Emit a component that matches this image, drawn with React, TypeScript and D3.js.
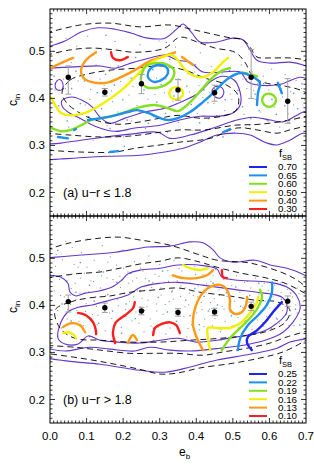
import { useEffect, useRef } from 'react';
import * as d3 from 'd3';

// Colours
const PURPLE = "#6435cc";
const LEVEL_COLORS = ["#2323ee", "#1e90f0", "#84e01e", "#f2f000", "#ff9a14", "#ff1e1e"];
const FONT = "'Liberation Sans', Arial, Helvetica, sans-serif";

// Legend levels
const FSB_A = ["0.70", "0.65", "0.60", "0.50", "0.40", "0.30"];
const FSB_B = ["0.25", "0.22", "0.19", "0.16", "0.13", "0.10"];

// Binned means with error bars
const EB_BINS = [0.05, 0.15, 0.25, 0.35, 0.45, 0.55, 0.65];
const A_MEAN = [0.445, 0.413, 0.431, 0.418, 0.412, 0.445, 0.394];
const A_LO = [0.409, 0.405, 0.410, 0.396, 0.394, 0.400, 0.347];
const A_HI = [0.469, 0.421, 0.451, 0.440, 0.428, 0.504, 0.442];
const B_MEAN = [0.408, 0.395, 0.388, 0.385, 0.386, 0.398, 0.409];
const B_LO = [0.386, 0.385, 0.380, 0.377, 0.378, 0.389, 0.398];
const B_HI = [0.422, 0.405, 0.396, 0.393, 0.394, 0.407, 0.420];

// Panel (a) number-density contours (solid purple, open ones run off the frame)
const A_PURPLE = [
  [[-0.01,0.509],[0.041,0.522],[0.085,0.541],[0.131,0.550],[0.178,0.547],[0.221,0.539],[0.268,0.528],[0.314,0.528],[0.350,0.550],[0.364,0.558],[0.388,0.539],[0.410,0.520],[0.457,0.520],[0.500,0.528],[0.528,0.524],[0.547,0.503],[0.566,0.481],[0.602,0.475],[0.656,0.477],[0.692,0.471],[0.71,0.464]],
  [[0.71,0.322],[0.692,0.326],[0.656,0.311],[0.621,0.301],[0.593,0.305],[0.547,0.322],[0.511,0.326],[0.457,0.322],[0.410,0.307],[0.364,0.294],[0.314,0.286],[0.246,0.279],[0.164,0.277],[0.104,0.275],[0.027,0.271],[-0.01,0.269]],
  [[-0.01,0.464],[0.068,0.467],[0.139,0.469],[0.178,0.464],[0.221,0.475],[0.273,0.486],[0.314,0.492],[0.350,0.481],[0.383,0.477],[0.418,0.456],[0.473,0.456],[0.520,0.456],[0.541,0.435],[0.574,0.428],[0.629,0.430],[0.684,0.445],[0.71,0.439]],
  [[0.71,0.375],[0.692,0.371],[0.637,0.350],[0.602,0.354],[0.555,0.360],[0.511,0.354],[0.446,0.337],[0.383,0.322],[0.328,0.315],[0.295,0.328],[0.219,0.324],[0.150,0.318],[0.085,0.311],[0.030,0.305],[-0.01,0.303]],
];
const A_PURPLE_LOOPS = [
  [[0.033,0.396],[0.060,0.403],[0.088,0.396],[0.115,0.382],[0.137,0.360],[0.164,0.347],[0.205,0.358],[0.260,0.371],[0.314,0.379],[0.369,0.396],[0.410,0.413],[0.438,0.435],[0.470,0.447],[0.503,0.439],[0.520,0.413],[0.520,0.386],[0.500,0.369],[0.459,0.362],[0.410,0.362],[0.355,0.354],[0.301,0.343],[0.232,0.337],[0.178,0.330],[0.123,0.341],[0.082,0.358],[0.049,0.371],[0.033,0.384]],
  [[0.014,0.428],[0.019,0.437],[0.027,0.440],[0.035,0.432],[0.034,0.420],[0.025,0.417],[0.017,0.420]],
  [[0.443,0.413],[0.448,0.423],[0.459,0.426],[0.472,0.421],[0.475,0.410],[0.466,0.401],[0.452,0.403]],
];
// Panel (a) dashed contours
const A_DASHED = [
  [[-0.01,0.539],[0.082,0.556],[0.164,0.560],[0.246,0.552],[0.328,0.556],[0.397,0.545],[0.484,0.530],[0.528,0.524],[0.547,0.509],[0.566,0.488],[0.602,0.486],[0.656,0.486],[0.71,0.481]],
  [[0.71,0.343],[0.656,0.333],[0.621,0.326],[0.566,0.333],[0.511,0.337],[0.438,0.315],[0.355,0.307],[0.301,0.301],[0.232,0.294],[0.178,0.286],[0.082,0.286],[-0.01,0.290]],
  [[-0.01,0.492],[0.055,0.503],[0.112,0.507],[0.178,0.503],[0.232,0.498],[0.314,0.507],[0.355,0.530],[0.402,0.520],[0.451,0.507],[0.506,0.498],[0.533,0.477],[0.552,0.449],[0.580,0.435],[0.643,0.426],[0.684,0.418],[0.71,0.407]],
  [[0.71,0.364],[0.656,0.354],[0.574,0.345],[0.506,0.343],[0.424,0.333],[0.355,0.333],[0.301,0.328],[0.219,0.320],[0.137,0.318],[0.055,0.322],[-0.01,0.326]],
];
const A_DASHED_LOOPS = [
  [[0.033,0.413],[0.055,0.439],[0.104,0.452],[0.164,0.460],[0.232,0.464],[0.301,0.469],[0.369,0.460],[0.424,0.443],[0.479,0.430],[0.514,0.407],[0.509,0.375],[0.470,0.362],[0.410,0.358],[0.350,0.364],[0.301,0.358],[0.246,0.350],[0.186,0.345],[0.123,0.354],[0.077,0.371],[0.044,0.392]],
];
// Panel (a) f_SB contours: [level index, points]
const A_LEVELS: [number, number[][]][] = [
  [4, [[-0.01,0.460],[0.030,0.475],[0.063,0.486]]],
  [4, [[0.126,0.498],[0.098,0.481],[0.085,0.460],[0.090,0.445],[0.112,0.435],[0.153,0.433],[0.194,0.445],[0.232,0.460],[0.268,0.477],[0.304,0.488],[0.342,0.498]]],
  [4, [[0.361,0.488],[0.391,0.471]]],
  [5, [[0.167,0.498],[0.172,0.486],[0.191,0.481],[0.213,0.488]]],
  [3, [[-0.01,0.403],[0.003,0.401],[0.014,0.386],[0.030,0.369],[0.057,0.364],[0.096,0.369],[0.123,0.379],[0.150,0.392],[0.178,0.407],[0.205,0.424],[0.232,0.445],[0.260,0.467],[0.287,0.481],[0.314,0.490],[0.334,0.492],[0.350,0.481],[0.366,0.464],[0.391,0.449],[0.418,0.445],[0.446,0.456],[0.473,0.477],[0.487,0.486]]],
  [2, [[-0.01,0.337],[0.003,0.337],[0.030,0.330],[0.057,0.333],[0.085,0.343],[0.112,0.354],[0.159,0.360],[0.205,0.371],[0.249,0.382],[0.287,0.386],[0.323,0.379],[0.350,0.373],[0.383,0.392],[0.418,0.422],[0.446,0.445],[0.473,0.460],[0.492,0.464]]],
  [2, [[0.525,0.455],[0.540,0.453]]],
  [2, [[0.550,0.451],[0.566,0.447]]],
  [1, [[0.104,0.354],[0.139,0.358],[0.178,0.364],[0.213,0.371],[0.238,0.375],[0.268,0.369],[0.295,0.360],[0.323,0.354],[0.350,0.358],[0.383,0.371],[0.418,0.392],[0.446,0.411],[0.473,0.433],[0.492,0.445],[0.520,0.454],[0.547,0.449],[0.574,0.433],[0.569,0.413],[0.566,0.386]]],
  [1, [[0.022,0.318],[0.049,0.315]]],
  [1, [[0.066,0.333],[0.071,0.335]]],
  [1, [[0.623,0.433],[0.634,0.411]]],
  [1, [[0.473,0.328],[0.492,0.335]]],
  [1, [[0.164,0.286],[0.186,0.288]]],
];
const A_LEVEL_LOOPS: [number, number[][]][] = [
  [3, [[0.326,0.411],[0.333,0.421],[0.345,0.424],[0.358,0.420],[0.364,0.411],[0.357,0.401],[0.345,0.398],[0.332,0.401]]],
  [2, [[0.252,0.454],[0.263,0.469],[0.287,0.475],[0.317,0.473],[0.339,0.460],[0.334,0.441],[0.314,0.428],[0.287,0.422],[0.263,0.424],[0.249,0.437]]],
  [2, [[0.580,0.396],[0.586,0.407],[0.599,0.410],[0.612,0.406],[0.618,0.396],[0.612,0.386],[0.599,0.382],[0.586,0.386]]],
  [1, [[0.268,0.445],[0.273,0.462],[0.295,0.471],[0.317,0.467],[0.323,0.456],[0.309,0.441],[0.284,0.435]]],
];

// Panel (b) contours
const B_PURPLE = [
  [[-0.01,0.501],[0.085,0.507],[0.178,0.513],[0.268,0.524],[0.328,0.526],[0.383,0.535],[0.418,0.533],[0.446,0.518],[0.465,0.501],[0.500,0.492],[0.561,0.496],[0.602,0.486],[0.648,0.479],[0.684,0.469],[0.71,0.458]],
  [[0.71,0.330],[0.656,0.322],[0.621,0.309],[0.547,0.296],[0.457,0.284],[0.383,0.269],[0.314,0.258],[0.246,0.262],[0.137,0.275],[0.055,0.281],[-0.01,0.288]],
  [[-0.01,0.464],[0.030,0.460],[0.049,0.447],[0.055,0.428],[0.071,0.420],[0.096,0.426],[0.131,0.430],[0.170,0.439],[0.194,0.452],[0.213,0.467],[0.246,0.475],[0.301,0.479],[0.350,0.486],[0.424,0.484],[0.457,0.477],[0.470,0.460],[0.506,0.454],[0.602,0.449],[0.648,0.439],[0.675,0.420],[0.684,0.394],[0.664,0.364],[0.637,0.343],[0.596,0.328],[0.547,0.318],[0.465,0.309],[0.383,0.303],[0.328,0.305],[0.273,0.311],[0.232,0.303],[0.164,0.307],[0.109,0.311],[0.041,0.303],[-0.01,0.309]],
];
const B_PURPLE_LOOPS = [
  [[0.022,0.330],[0.030,0.364],[0.049,0.386],[0.077,0.396],[0.115,0.401],[0.164,0.411],[0.213,0.422],[0.249,0.439],[0.301,0.447],[0.350,0.449],[0.418,0.443],[0.511,0.433],[0.566,0.428],[0.637,0.416],[0.648,0.386],[0.602,0.352],[0.566,0.341],[0.511,0.333],[0.457,0.326],[0.402,0.322],[0.350,0.330],[0.301,0.326],[0.246,0.320],[0.186,0.322],[0.137,0.326],[0.104,0.335],[0.077,0.318],[0.041,0.318]],
];
const B_DASHED = [
  [[-0.01,0.518],[0.055,0.533],[0.137,0.543],[0.191,0.545],[0.246,0.539],[0.328,0.528],[0.410,0.507],[0.457,0.496],[0.547,0.490],[0.637,0.469],[0.675,0.454],[0.71,0.433]],
  [[0.71,0.330],[0.692,0.322],[0.637,0.301],[0.574,0.288],[0.500,0.277],[0.410,0.267],[0.347,0.256],[0.301,0.254],[0.246,0.264],[0.164,0.277],[0.082,0.288],[-0.01,0.298]],
  [[-0.01,0.458],[0.068,0.467],[0.137,0.471],[0.191,0.479],[0.246,0.488],[0.301,0.494],[0.350,0.501],[0.410,0.492],[0.457,0.481],[0.520,0.469],[0.593,0.458],[0.643,0.447],[0.692,0.428],[0.71,0.420]],
  [[0.71,0.347],[0.648,0.333],[0.602,0.320],[0.539,0.309],[0.473,0.301],[0.418,0.294],[0.350,0.298],[0.273,0.298],[0.219,0.298],[0.137,0.305],[0.068,0.311],[-0.01,0.315]],
];
const B_DASHED_LOOPS = [
  [[0.014,0.390],[0.055,0.407],[0.109,0.416],[0.164,0.420],[0.219,0.428],[0.287,0.433],[0.350,0.437],[0.410,0.428],[0.492,0.420],[0.561,0.411],[0.623,0.407],[0.656,0.390],[0.643,0.364],[0.602,0.347],[0.547,0.337],[0.465,0.330],[0.383,0.326],[0.301,0.322],[0.219,0.322],[0.137,0.326],[0.068,0.330],[0.027,0.352]],
];
const B_LEVELS: [number, number[][]][] = [
  [5, [[0.077,0.384],[0.098,0.379],[0.118,0.364],[0.126,0.343],[0.126,0.339]]],
  [5, [[0.178,0.320],[0.172,0.343],[0.180,0.364],[0.205,0.379],[0.227,0.394],[0.232,0.407]]],
  [5, [[0.282,0.337],[0.287,0.352],[0.304,0.360],[0.328,0.364],[0.345,0.358],[0.355,0.341]]],
  [5, [[0.470,0.475],[0.473,0.460],[0.484,0.458]]],
  [4, [[0.036,0.354],[0.057,0.362],[0.082,0.358],[0.096,0.343]]],
  [4, [[0.213,0.320],[0.219,0.330],[0.227,0.337],[0.238,0.326]]],
  [4, [[0.336,0.464],[0.364,0.458],[0.402,0.458],[0.429,0.464],[0.446,0.475]]],
  [4, [[0.418,0.305],[0.402,0.330],[0.391,0.358],[0.394,0.386],[0.405,0.411],[0.421,0.430],[0.443,0.441],[0.468,0.443],[0.484,0.433],[0.492,0.413],[0.492,0.392],[0.506,0.382],[0.525,0.386],[0.536,0.401],[0.539,0.418]]],
  [3, [[0.036,0.341],[0.049,0.343],[0.063,0.339],[0.071,0.330]]],
  [3, [[0.364,0.486],[0.383,0.479],[0.410,0.475],[0.432,0.479]]],
  [3, [[0.438,0.305],[0.432,0.330],[0.432,0.352],[0.457,0.352],[0.492,0.352],[0.520,0.362],[0.547,0.384],[0.566,0.407],[0.569,0.418]]],
  [2, [[0.470,0.305],[0.492,0.330],[0.520,0.352],[0.547,0.373],[0.569,0.396],[0.580,0.420],[0.574,0.433]]],
  [1, [[0.514,0.305],[0.520,0.330],[0.541,0.358],[0.569,0.379],[0.593,0.401],[0.607,0.428],[0.607,0.449]]],
  [0, [[0.552,0.305],[0.539,0.320],[0.541,0.333],[0.566,0.347],[0.588,0.364],[0.610,0.386],[0.634,0.407]]],
];

// Individual galaxies (grey and blue specks)
const A_GREY = [[0.006,0.463],[0.014,0.418],[0.023,0.497],[0.029,0.372],[0.037,0.441],[0.044,0.528],[0.051,0.339],[0.058,0.476],[0.066,0.402],[0.073,0.511],[0.081,0.357],[0.088,0.448],[0.096,0.386],[0.103,0.532],[0.111,0.419],[0.118,0.311],[0.126,0.471],[0.133,0.363],[0.141,0.503],[0.148,0.428],[0.156,0.342],[0.163,0.457],[0.171,0.393],[0.178,0.521],[0.186,0.371],[0.193,0.436],[0.201,0.318],[0.208,0.489],[0.216,0.407],[0.223,0.352],[0.231,0.462],[0.238,0.385],[0.246,0.514],[0.253,0.431],[0.261,0.336],[0.268,0.398],[0.276,0.482],[0.283,0.361],[0.291,0.443],[0.298,0.522],[0.306,0.377],[0.313,0.412],[0.321,0.328],[0.328,0.467],[0.336,0.394],[0.343,0.509],[0.351,0.349],[0.358,0.439],[0.366,0.381],[0.373,0.481],[0.381,0.414],[0.388,0.332],[0.396,0.456],[0.403,0.368],[0.411,0.497],[0.418,0.402],[0.426,0.444],[0.433,0.356],[0.441,0.468],[0.448,0.389],[0.456,0.424],[0.463,0.338],[0.471,0.452],[0.478,0.374],[0.486,0.486],[0.493,0.409],[0.501,0.352],[0.508,0.437],[0.516,0.391],[0.523,0.471],[0.531,0.366],[0.538,0.421],[0.546,0.343],[0.553,0.456],[0.561,0.398],[0.568,0.432],[0.576,0.371],[0.583,0.447],[0.591,0.354],[0.598,0.418],[0.606,0.462],[0.613,0.381],[0.621,0.426],[0.628,0.339],[0.636,0.403],[0.643,0.451],[0.651,0.367],[0.658,0.414],[0.666,0.386],[0.673,0.438],[0.681,0.359],[0.688,0.421],[0.696,0.397],[0.042,0.421],[0.077,0.437],[0.109,0.398],[0.137,0.441],[0.168,0.416],[0.197,0.462],[0.227,0.425],[0.257,0.451],[0.287,0.408],[0.317,0.441],[0.347,0.419],[0.377,0.452],[0.407,0.427],[0.437,0.412],[0.467,0.431],[0.497,0.398],[0.527,0.441],[0.557,0.417]];
const A_BLUE = [[0.011,0.447],[0.024,0.384],[0.036,0.476],[0.047,0.352],[0.059,0.421],[0.071,0.458],[0.083,0.389],[0.094,0.437],[0.106,0.361],[0.117,0.492],[0.129,0.412],[0.141,0.378],[0.152,0.451],[0.164,0.336],[0.176,0.428],[0.187,0.469],[0.199,0.397],[0.211,0.354],[0.222,0.443],[0.234,0.487],[0.246,0.371],[0.257,0.418],[0.269,0.347],[0.281,0.461],[0.292,0.392],[0.304,0.429],[0.316,0.368],[0.327,0.483],[0.339,0.405],[0.351,0.441],[0.362,0.362],[0.374,0.426],[0.386,0.387],[0.397,0.472],[0.409,0.348],[0.421,0.418],[0.432,0.391],[0.444,0.454],[0.456,0.363],[0.467,0.428],[0.479,0.397],[0.491,0.459],[0.502,0.371],[0.514,0.417],[0.526,0.382],[0.537,0.441],[0.549,0.357],[0.561,0.409],[0.572,0.374],[0.584,0.431],[0.596,0.352],[0.607,0.398],[0.619,0.366],[0.631,0.421],[0.642,0.384],[0.654,0.349],[0.666,0.411],[0.677,0.378],[0.689,0.431],[0.203,0.298],[0.318,0.519],[0.153,0.534],[0.473,0.318]];
const B_GREY = [[0.004,0.472],[0.012,0.431],[0.017,0.508],[0.021,0.389],[0.026,0.455],[0.031,0.352],[0.034,0.497],[0.039,0.418],[0.043,0.536],[0.047,0.371],[0.052,0.463],[0.056,0.402],[0.061,0.523],[0.064,0.338],[0.069,0.447],[0.073,0.389],[0.077,0.481],[0.082,0.426],[0.086,0.512],[0.091,0.357],[0.094,0.468],[0.099,0.404],[0.103,0.541],[0.108,0.333],[0.112,0.452],[0.116,0.381],[0.121,0.496],[0.125,0.418],[0.129,0.359],[0.134,0.474],[0.138,0.437],[0.143,0.527],[0.147,0.392],[0.151,0.346],[0.156,0.458],[0.161,0.411],[0.165,0.503],[0.169,0.372],[0.174,0.441],[0.178,0.329],[0.182,0.486],[0.187,0.399],[0.191,0.462],[0.195,0.353],[0.199,0.518],[0.204,0.425],[0.208,0.377],[0.213,0.471],[0.217,0.409],[0.221,0.336],[0.226,0.452],[0.231,0.493],[0.235,0.386],[0.239,0.431],[0.243,0.362],[0.248,0.479],[0.252,0.415],[0.257,0.344],[0.261,0.457],[0.265,0.397],[0.270,0.505],[0.274,0.371],[0.278,0.438],[0.283,0.326],[0.287,0.466],[0.291,0.403],[0.296,0.354],[0.300,0.487],[0.304,0.422],[0.309,0.381],[0.313,0.449],[0.317,0.339],[0.322,0.474],[0.326,0.408],[0.331,0.365],[0.335,0.431],[0.339,0.496],[0.344,0.388],[0.348,0.452],[0.352,0.346],[0.357,0.419],[0.361,0.473],[0.366,0.376],[0.370,0.437],[0.374,0.333],[0.379,0.401],[0.383,0.458],[0.387,0.359],[0.392,0.421],[0.396,0.483],[0.401,0.384],[0.405,0.441],[0.409,0.348],[0.414,0.406],[0.418,0.465],[0.423,0.371],[0.427,0.427],[0.431,0.336],[0.436,0.392],[0.440,0.451],[0.444,0.357],[0.449,0.414],[0.453,0.476],[0.457,0.379],[0.462,0.433],[0.466,0.344],[0.471,0.398],[0.475,0.455],[0.479,0.366],[0.484,0.419],[0.488,0.331],[0.492,0.386],[0.497,0.442],[0.501,0.357],[0.505,0.409],[0.510,0.463],[0.514,0.374],[0.519,0.428],[0.523,0.341],[0.527,0.395],[0.532,0.449],[0.536,0.362],[0.540,0.416],[0.545,0.383],[0.549,0.437],[0.553,0.349],[0.558,0.403],[0.562,0.458],[0.567,0.369],[0.571,0.424],[0.575,0.388],[0.580,0.441],[0.584,0.356],[0.588,0.409],[0.593,0.376],[0.597,0.432],[0.601,0.395],[0.606,0.351],[0.610,0.418],[0.614,0.443],[0.619,0.373],[0.623,0.401],[0.627,0.362],[0.632,0.427],[0.636,0.389],[0.641,0.412],[0.645,0.368],[0.649,0.434],[0.654,0.396],[0.658,0.379],[0.663,0.418],[0.667,0.357],[0.672,0.401],[0.676,0.384],[0.681,0.425],[0.686,0.371],[0.692,0.408],[0.058,0.436],[0.071,0.412],[0.084,0.458],[0.097,0.387],[0.106,0.429],[0.119,0.451],[0.127,0.398],[0.141,0.463],[0.152,0.421],[0.163,0.384],[0.172,0.455],[0.184,0.413],[0.193,0.438],[0.206,0.391],[0.215,0.447],[0.228,0.418],[0.237,0.458],[0.246,0.397],[0.259,0.432],[0.268,0.411],[0.281,0.449],[0.292,0.388],[0.303,0.437],[0.315,0.402],[0.324,0.451],[0.337,0.413],[0.346,0.384],[0.358,0.441],[0.369,0.397],[0.381,0.426],[0.393,0.372],[0.404,0.418],[0.416,0.391],[0.428,0.446],[0.439,0.406],[0.451,0.372],[0.463,0.421],[0.476,0.392],[0.015,0.483],[0.029,0.421],[0.048,0.391],[0.066,0.487],[0.079,0.366],[0.101,0.481],[0.131,0.379],[0.158,0.492],[0.176,0.363],[0.201,0.479],[0.224,0.367],[0.254,0.473],[0.276,0.356],[0.298,0.462],[0.329,0.352],[0.353,0.478],[0.377,0.351],[0.398,0.466],[0.421,0.355],[0.446,0.463],[0.468,0.349],[0.494,0.456],[0.516,0.352],[0.539,0.451],[0.563,0.343],[0.586,0.447],[0.608,0.381],[0.631,0.448],[0.653,0.357],[0.677,0.437]];
const B_BLUE = [[0.009,0.461],[0.021,0.517],[0.033,0.403],[0.046,0.452],[0.058,0.367],[0.071,0.428],[0.083,0.491],[0.096,0.381],[0.108,0.443],[0.121,0.409],[0.133,0.362],[0.146,0.471],[0.158,0.423],[0.171,0.388],[0.183,0.449],[0.196,0.341],[0.208,0.403],[0.221,0.468],[0.233,0.372],[0.246,0.431],[0.258,0.389],[0.271,0.452],[0.283,0.351],[0.296,0.417],[0.308,0.473],[0.321,0.386],[0.333,0.429],[0.346,0.366],[0.358,0.457],[0.371,0.411],[0.383,0.378],[0.396,0.436],[0.408,0.359],[0.421,0.419],[0.433,0.388],[0.446,0.447],[0.458,0.401],[0.471,0.353],[0.483,0.427],[0.496,0.378],[0.508,0.439],[0.521,0.398],[0.533,0.367],[0.546,0.421],[0.558,0.386],[0.571,0.447],[0.583,0.363],[0.596,0.409],[0.608,0.437],[0.621,0.371],[0.633,0.413],[0.646,0.381],[0.658,0.426],[0.671,0.392],[0.683,0.358]];

const X_TICKS = [0, 0.1, 0.2, 0.3, 0.4, 0.5, 0.6, 0.7];
const Y_TICKS = [0.2, 0.3, 0.4, 0.5];

const PANELS = [
  {
    id: "a", label: "(a) u\u2212r \u2264 1.8", fsb: FSB_A, mean: A_MEAN, lo: A_LO, hi: A_HI,
    purple: A_PURPLE, purpleLoops: A_PURPLE_LOOPS, dashed: A_DASHED, dashedLoops: A_DASHED_LOOPS,
    levels: A_LEVELS, levelLoops: A_LEVEL_LOOPS, grey: A_GREY, blue: A_BLUE,
  },
  {
    id: "b", label: "(b) u\u2212r > 1.8", fsb: FSB_B, mean: B_MEAN, lo: B_LO, hi: B_HI,
    purple: B_PURPLE, purpleLoops: B_PURPLE_LOOPS, dashed: B_DASHED, dashedLoops: B_DASHED_LOOPS,
    levels: B_LEVELS, levelLoops: [] as [number, number[][]][], grey: B_GREY, blue: B_BLUE,
  },
];

export default function App() {
  const ref = useRef<SVGSVGElement>(null);

  useEffect(() => {
    if (!ref.current) return;
    const svg = d3.select(ref.current);
    svg.selectAll("*").remove();

    const left = 50, right = 306, panelH = 207, top0 = 9;
    const x = d3.scaleLinear().domain([0, 0.7]).range([left, right]);

    PANELS.forEach((p, pi) => {
      const top = top0 + pi * panelH;
      const bottom = top + panelH;
      const y = d3.scaleLinear().domain([0.15, 0.59]).range([bottom, top]);
      const g = svg.append("g");

      g.append("clipPath").attr("id", "clip-" + p.id)
        .append("rect").attr("x", left).attr("y", top).attr("width", right - left).attr("height", panelH);
      const plot = g.append("g").attr("clip-path", `url(#clip-${p.id})`);

      const open = d3.line<number[]>().x(d => x(d[0])).y(d => y(d[1])).curve(d3.curveCatmullRom.alpha(0.5));
      const closed = d3.line<number[]>().x(d => x(d[0])).y(d => y(d[1])).curve(d3.curveCatmullRomClosed.alpha(0.5));

      // galaxies
      plot.selectAll(".grey").data(p.grey).join("rect")
        .attr("x", d => x(d[0]) - 0.55).attr("y", d => y(d[1]) - 0.55)
        .attr("width", 1.1).attr("height", 1.1).attr("fill", "#999");
      plot.selectAll(".blue").data(p.blue).join("rect")
        .attr("x", d => x(d[0]) - 0.7).attr("y", d => y(d[1]) - 0.7)
        .attr("width", 1.4).attr("height", 1.4).attr("fill", "#5b9be0");

      // density contours
      const drawSet = (lines: number[][][], gen: any, stroke: string, dash: string | null) => {
        lines.forEach(pts => {
          plot.append("path").attr("d", gen(pts)).attr("fill", "none")
            .attr("stroke", stroke).attr("stroke-width", dash ? 0.9 : 1.1)
            .attr("stroke-dasharray", dash);
        });
      };
      drawSet(p.purple, open, PURPLE, null);
      drawSet(p.purpleLoops, closed, PURPLE, null);
      drawSet(p.dashed, open, "#000", "6,4");
      drawSet(p.dashedLoops, closed, "#000", "6,4");

      // f_SB contours
      p.levels.forEach(([lv, pts]) => {
        plot.append("path").attr("d", open(pts)).attr("fill", "none")
          .attr("stroke", LEVEL_COLORS[lv]).attr("stroke-width", 2.4).attr("stroke-linecap", "round");
      });
      p.levelLoops.forEach(([lv, pts]) => {
        plot.append("path").attr("d", closed(pts)).attr("fill", "none")
          .attr("stroke", LEVEL_COLORS[lv]).attr("stroke-width", 2.4);
      });

      // binned means
      EB_BINS.forEach((eb, i) => {
        const cx = x(eb);
        g.append("line").attr("x1", cx).attr("x2", cx).attr("y1", y(p.lo[i])).attr("y2", y(p.hi[i]))
          .attr("stroke", "#a0a0a0").attr("stroke-width", 1);
        [p.lo[i], p.hi[i]].forEach(v => {
          g.append("line").attr("x1", cx - 3).attr("x2", cx + 3).attr("y1", y(v)).attr("y2", y(v))
            .attr("stroke", "#a0a0a0").attr("stroke-width", 1);
        });
        g.append("circle").attr("cx", cx).attr("cy", y(p.mean[i])).attr("r", 2.7).attr("fill", "#000");
      });

      // frame and ticks
      g.append("rect").attr("x", left).attr("y", top).attr("width", right - left).attr("height", panelH)
        .attr("fill", "none").attr("stroke", "#000").attr("stroke-width", 1);
      const ticks = g.append("g").attr("stroke", "#000").attr("stroke-width", 0.8);
      d3.range(1, 70).forEach(k => {
        const v = k / 100;
        const len = k % 10 === 0 ? 5 : 2.5;
        const px = x(v);
        ticks.append("line").attr("x1", px).attr("x2", px).attr("y1", bottom).attr("y2", bottom - len);
        ticks.append("line").attr("x1", px).attr("x2", px).attr("y1", top).attr("y2", top + len);
      });
      d3.range(16, 59).forEach(k => {
        const v = k / 100;
        const len = k % 10 === 0 ? 5 : 2.5;
        const py = y(v);
        ticks.append("line").attr("x1", left).attr("x2", left + len).attr("y1", py).attr("y2", py);
        ticks.append("line").attr("x1", right).attr("x2", right - len).attr("y1", py).attr("y2", py);
      });

      Y_TICKS.forEach(v => {
        g.append("text").attr("x", left - 5).attr("y", y(v)).attr("dy", "0.35em")
          .attr("text-anchor", "end").attr("font-size", 11.5).attr("font-family", FONT).text(v.toFixed(1));
      });

      // y title
      const yt = g.append("text").attr("transform", `translate(17,${top + 91}) rotate(-90)`)
        .attr("text-anchor", "middle").attr("font-family", FONT).attr("font-size", 12);
      yt.append("tspan").text("c");
      yt.append("tspan").attr("dy", 3).attr("font-size", 8).text("in");

      // panel label
      g.append("text").attr("x", 63).attr("y", y(0.2)).attr("dy", "0.35em")
        .attr("font-size", 12.5).attr("font-family", FONT).text(p.label);

      // legend
      const lg = g.append("g").attr("font-family", FONT);
      const ft = lg.append("text").attr("x", 279).attr("y", top + 148).attr("font-size", 11);
      ft.append("tspan").text("f");
      ft.append("tspan").attr("dy", 3).attr("font-size", 7.5).text("SB");
      p.fsb.forEach((lab, i) => {
        const ly = top + 158 + i * 8.4;
        lg.append("line").attr("x1", 249).attr("x2", 267).attr("y1", ly).attr("y2", ly)
          .attr("stroke", LEVEL_COLORS[i]).attr("stroke-width", 2);
        lg.append("text").attr("x", 278).attr("y", ly).attr("dy", "0.35em")
          .attr("font-size", 9.8).text(lab);
      });
    });

    // x axis labels (bottom panel only)
    const bottom = top0 + 2 * panelH;
    X_TICKS.forEach(v => {
      svg.append("text").attr("x", x(v)).attr("y", bottom + 17).attr("text-anchor", "middle")
        .attr("font-size", 11.5).attr("font-family", FONT).text(v.toFixed(1));
    });
    const xt = svg.append("text").attr("x", 179).attr("y", bottom + 33).attr("font-family", FONT).attr("font-size", 12);
    xt.append("tspan").text("e");
    xt.append("tspan").attr("dy", 3).attr("font-size", 8).text("b");
  }, []);

  return (
    <svg ref={ref} width={314} height={472}
      style={{ position: "absolute", left: 0, top: 0, background: "#fff" }} />
  );
}
